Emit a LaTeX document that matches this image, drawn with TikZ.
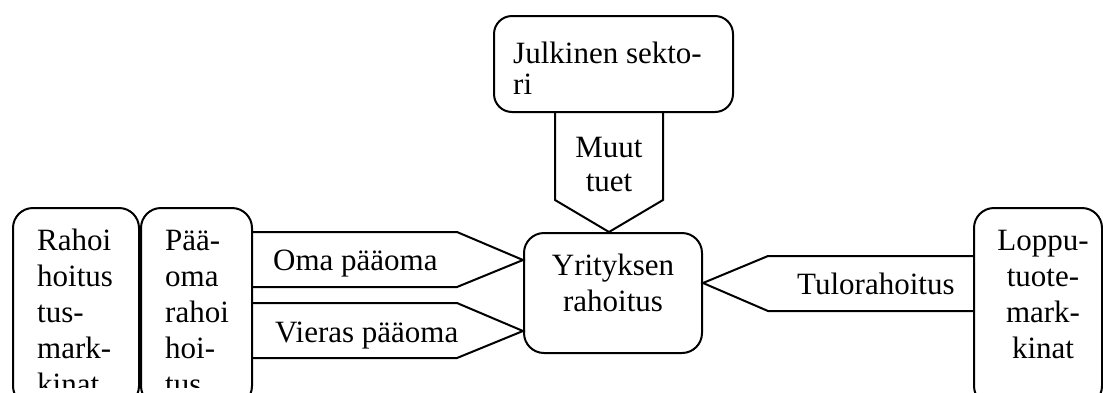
\documentclass[tikz,border=0pt]{standalone}
\usepackage{fontspec}
\setmainfont{Liberation Serif}
\begin{document}
\begin{tikzpicture}[x=1pt,y=-1pt,
  box/.style={draw, rounded corners=20pt, line width=2pt, inner sep=0pt},
  txt/.style={inner sep=0pt, font=\fontsize{31}{36}\selectfont},
  blockarrow/.style={draw, line width=2pt, line join=miter}]
\useasboundingbox (0,0) rectangle (1103,392);
\clip (0,0) rectangle (1103,392);
% boxes
\node[box, anchor=north west, minimum width=126pt, minimum height=198pt] (rah) at (12,207) {};
\node[box, anchor=north west, minimum width=111pt, minimum height=198pt] (pae) at (140,207) {};
\node[box, anchor=north west, minimum width=178pt, minimum height=120pt] (yri) at (523,232) {};
\node[box, anchor=north west, minimum width=128pt, minimum height=198pt] (lop) at (973,207) {};
\node[box, anchor=north west, minimum width=239pt, minimum height=96pt, rounded corners=18pt] (jul) at (493,15) {};
% block arrows
\draw[blockarrow] (pae.east |- 0,232) -- (457,232) -- (yri.west |- 0,260) -- (457,287) -- (pae.east |- 0,287);
\draw[blockarrow] (pae.east |- 0,303) -- (457,303) -- (yri.west |- 0,331) -- (457,358) -- (pae.east |- 0,358);
\draw[blockarrow] (lop.west |- 0,256) -- (768,256) -- (yri.east |- 0,283) -- (768,311) -- (lop.west |- 0,311);
\draw[blockarrow] (jul.south -| 555,0) -- (555,200) -- (609,0 |- yri.north) -- (663,200) -- (jul.south -| 663,0);
% texts (base anchor of a multi-line node is its last line)
\begin{scope}
\clip (0,0) rectangle (1103,387);
\node[txt, anchor=base west, align=left] (rahT) at (37,394) {Rahoi\\hoitus\\tus-\\mark-\\kinat};
\node[txt, anchor=base west, align=left] (paeT) at (165,394) {Pää-\\oma\\rahoi\\hoi-\\tus};
\end{scope}
\node[txt, anchor=base west] (omaT) at (273,270) {Oma pääoma};
\node[txt, anchor=base west] (vieT) at (275,342) {Vieras pääoma};
\node[txt, anchor=base, align=center] (yriT) at (613,311) {Yrityksen\\rahoitus};
\node[txt, anchor=base west] (tulT) at (797,294) {Tulorahoitus};
\node[txt, anchor=base, align=center] (lopT) at (1043,358) {Loppu-\\tuote-\\mark-\\kinat};
\node[txt, anchor=base west, align=left, font=\fontsize{31}{31}\selectfont] (julT) at (513,94) {Julkinen sekto-\\ri};
\node[txt, anchor=base, align=center, font=\fontsize{31}{34}\selectfont] (muuT) at (609,191) {Muut\\tuet};
\end{tikzpicture}
\end{document}
